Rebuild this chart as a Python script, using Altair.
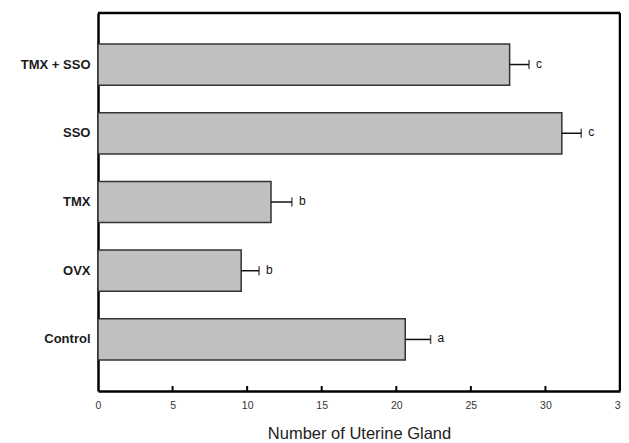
import altair as alt
import pandas as pd

groups = ["TMX + SSO", "SSO", "TMX", "OVX", "Control"]
means = [27.6, 31.1, 11.6, 9.6, 20.6]
errors = [1.3, 1.3, 1.4, 1.2, 1.7]
letters = ["c", "c", "b", "b", "a"]
tick_values = [5, 10, 15, 20, 25, 30]

df = pd.DataFrame({"group": groups, "mean": means, "err": errors, "letter": letters})
df["hi"] = df["mean"] + df["err"]
ticks_df = pd.DataFrame({"t": tick_values})
one = pd.DataFrame({"k": [0]})

W, H = 522, 378
FONT = "Liberation Sans"

xscale = alt.Scale(domain=[0, 35], nice=False, zero=True)
yscale = alt.Scale(paddingInner=0.4, paddingOuter=0.45)

x_enc = alt.X("mean:Q", scale=xscale,
              axis=alt.Axis(values=[0, 5, 10, 15, 20, 25, 30, 35], ticks=False, grid=False,
                            labelFlush=False,
                            domainColor="black", domainWidth=2.5,
                            labelFont=FONT, labelFontSize=10.5, labelColor="#333",
                            labelPadding=9, title="Number of Uterine Gland",
                            titleFont=FONT, titleFontSize=16.5, titleFontWeight="normal",
                            titleColor="#222", titlePadding=15))
y_enc = alt.Y("group:N", sort=groups, scale=yscale,
              axis=alt.Axis(title=None, ticks=False, grid=False, domainColor="black",
                            domainWidth=2.5, labelFont=FONT, labelFontSize=13,
                            labelFontWeight="bold", labelColor="#1a1a1a", labelPadding=8))

bars = alt.Chart(df).mark_bar(color="#c0c0c0", stroke="#333333", strokeWidth=1.5).encode(
    x=x_enc, y=y_enc)

rules = alt.Chart(df).mark_rule(color="#111", strokeWidth=1.5).encode(
    x=alt.X("mean:Q", scale=xscale), x2="hi:Q",
    y=alt.Y("group:N", sort=groups, scale=yscale))

caps = alt.Chart(df).mark_tick(color="#111", thickness=1.5, size=9).encode(
    x=alt.X("hi:Q", scale=xscale),
    y=alt.Y("group:N", sort=groups, scale=yscale))

labels = alt.Chart(df).mark_text(align="left", baseline="middle", dx=7, dy=-1,
                                 font=FONT, fontSize=12, color="#111").encode(
    x=alt.X("hi:Q", scale=xscale),
    y=alt.Y("group:N", sort=groups, scale=yscale),
    text="letter:N")

xticks = alt.Chart(ticks_df).mark_rule(color="black", strokeWidth=2).encode(
    x=alt.X("t:Q", scale=xscale),
    y=alt.value(H), y2=alt.value(H - 5))

top_edge = alt.Chart(one).mark_rule(color="black", strokeWidth=2.5).encode(
    x=alt.value(0), x2=alt.value(W), y=alt.value(0))
right_edge = alt.Chart(one).mark_rule(color="black", strokeWidth=2.5).encode(
    x=alt.value(W), y=alt.value(0), y2=alt.value(H))

chart = alt.layer(bars, rules, caps, labels, xticks, top_edge, right_edge).properties(
    width=W, height=H,
    autosize=alt.AutoSizeParams(type="none"),
    padding={"left": 90, "top": 5, "right": 1, "bottom": 52},
).configure(background="white").configure_view(stroke=None)

chart.save("out.html", embed_options={"renderer": "svg", "actions": False})
